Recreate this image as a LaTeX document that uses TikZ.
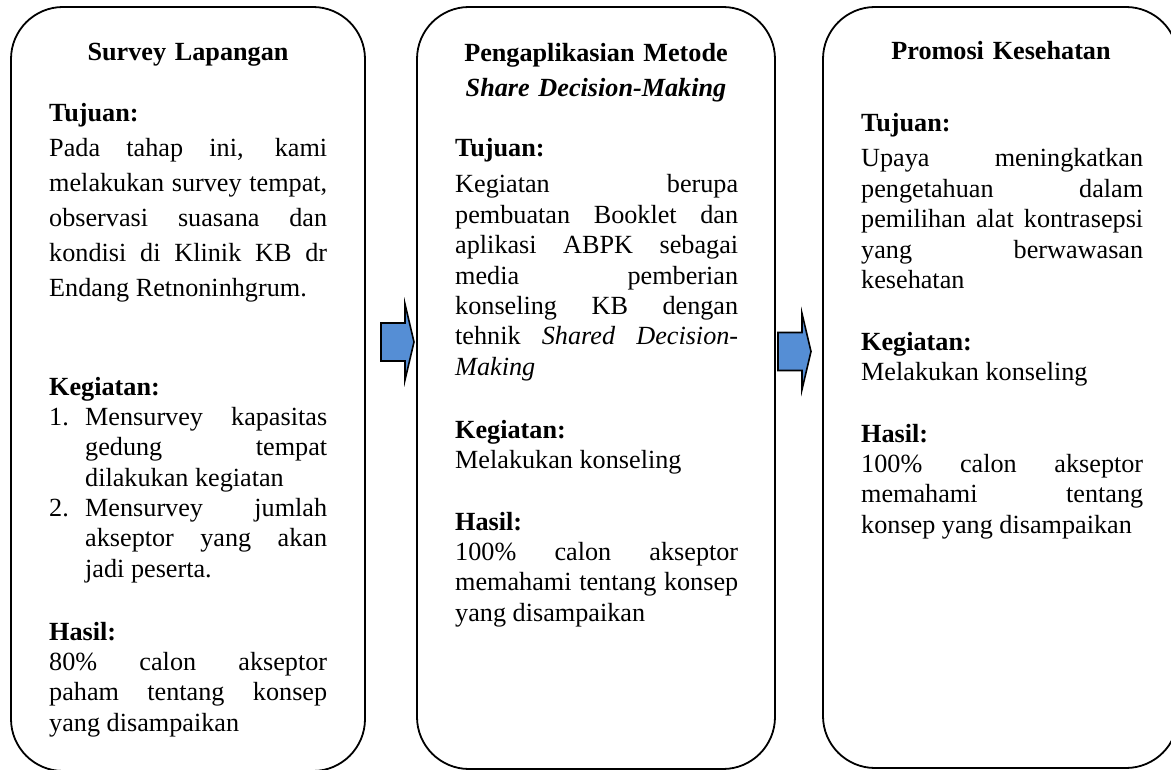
\documentclass[tikz,border=0pt]{standalone}
\usepackage{fontspec}
\setmainfont{Liberation Serif}
\definecolor{arrowblue}{RGB}{85,142,213}
\newcommand{\bodyfont}{\fontsize{26.2}{30.4}\selectfont}
\newcommand{\wideskip}{\fontsize{26.2}{35}\selectfont}
\newcommand{\itemno}[1]{\leavevmode\llap{\makebox[36pt][l]{#1}}}
\hyphenpenalty=10000
\exhyphenpenalty=10000
\tolerance=10000
\hbadness=10000
\tikzset{
  stagebox/.style={rectangle, rounded corners=52pt, draw=black, line width=1.8pt, inner sep=0pt},
  hd/.style={anchor=base, inner sep=0pt, text width=340pt, align=center, font=\wideskip\bfseries},
  sect/.style={anchor=base west, inner sep=0pt, align=justify, font=\bodyfont},
  blkarr/.style={draw=black, line width=1.6pt, fill=arrowblue, line join=miter},
}

\begin{document}
\begin{tikzpicture}[x=1pt, y=-1pt]
\useasboundingbox (0,0) rectangle (1171,770);
\clip (0,0) rectangle (1171,770);
% survey stage
\node[stagebox, minimum width=354pt, minimum height=764pt] (survey) at (188,389) {};
\node[hd] (surveyt) at (188,61) {Survey Lapangan};
\node[sect, text width=278pt, font=\wideskip] (surveytuj) at (49,122) {\textbf{Tujuan:}\par
  Pada tahap ini, kami\linebreak melakukan survey tempat,\linebreak observasi suasana dan\linebreak
  kondisi di Klinik KB dr\linebreak Endang Retnoninhgrum.};
\node[sect, text width=278pt] (surveykeg) at (49,395) {\textbf{Kegiatan:}\par
  \leftskip=36pt
  \itemno{1.}Mensurvey kapasitas\linebreak gedung tempat\linebreak dilakukan kegiatan\par
  \itemno{2.}Mensurvey jumlah\linebreak akseptor yang akan\linebreak jadi peserta.\par};
\node[sect, text width=278pt] (surveyhas) at (49,640) {\textbf{Hasil:}\par
  80\% calon akseptor\linebreak paham tentang konsep\linebreak yang disampaikan};
% metode stage
\node[stagebox, minimum width=358pt, minimum height=762pt] (metode) at (596,388) {};
\node[hd] (metodet) at (596,62) {Pengaplikasian Metode\\ \textit{Share Decision-Making}};
\node[sect, text width=283pt] (metodetuj) at (455,157) {\textbf{Tujuan:}\par\vspace{5.6pt}
  Kegiatan berupa\linebreak pembuatan Booklet dan\linebreak aplikasi ABPK sebagai\linebreak
  media pemberian\linebreak konseling KB dengan\linebreak tehnik \textit{Shared Decision-}\linebreak \textit{Making}};
\node[sect, text width=283pt] (metodekeg) at (455,438) {\textbf{Kegiatan:}\par Melakukan konseling};
\node[sect, text width=283pt] (metodehas) at (455,530) {\textbf{Hasil:}\par
  100\% calon akseptor\linebreak memahami tentang konsep\linebreak yang disampaikan};
% promosi stage
\node[stagebox, minimum width=355pt, minimum height=761pt] (promosi) at (1000.5,387.5) {};
\node[hd] (promosit) at (1001,60) {Promosi Kesehatan};
\node[sect, text width=282pt] (promosituj) at (861,132) {\textbf{Tujuan:}\par\vspace{4.6pt}
  Upaya meningkatkan\linebreak pengetahuan dalam\linebreak pemilihan alat kontrasepsi\linebreak
  yang berwawasan\linebreak kesehatan};
\node[sect, text width=282pt] (promosikeg) at (861,350) {\textbf{Kegiatan:}\par Melakukan konseling};
\node[sect, text width=282pt] (promosihas) at (861,442) {\textbf{Hasil:}\par
  100\% calon akseptor\linebreak memahami tentang\linebreak konsep yang disampaikan};
% block arrows
\foreach \ax/\ay in {381/342, 778/351.5}
  \draw[blkarr] (\ax,\ay-19) -- ++(24,0) -- ++(0,-19) -- ++(9,38) -- ++(-9,38) -- ++(0,-19) -- ++(-24,0) -- cycle;
\end{tikzpicture}
\end{document}
